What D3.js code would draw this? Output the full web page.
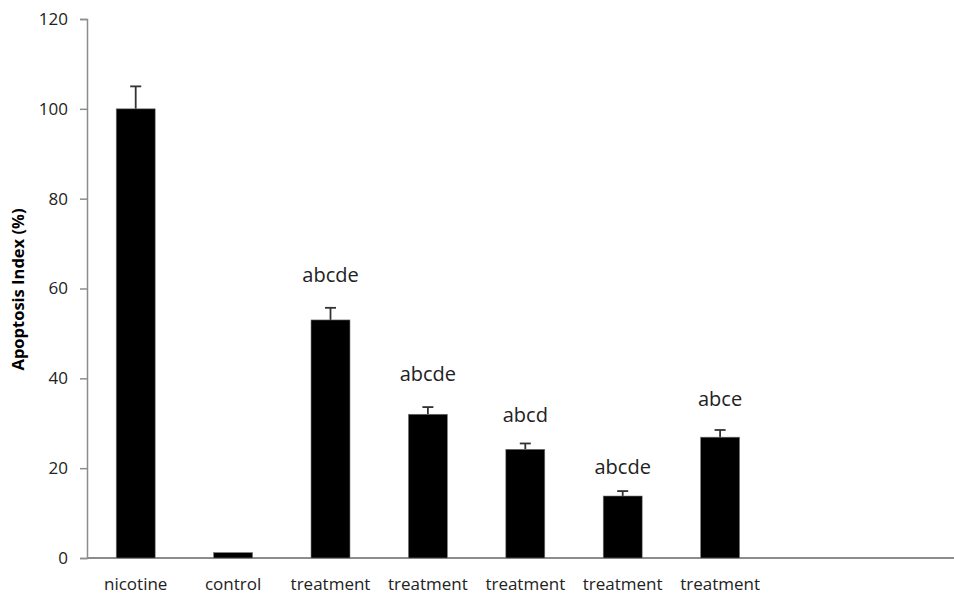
<!DOCTYPE html>
<html>
<head>
<meta charset="utf-8">
<script src="https://cdn.jsdelivr.net/npm/d3@7"></script>
<style>
  body { margin: 0; background: #fff; }
  text { font-family: "Open Sans", "Noto Sans", sans-serif; }
</style>
</head>
<body>
<div id="chart"></div>
<script>
// chart data
var groups = ['nicotine', 'control', 'treatment', 'treatment', 'treatment', 'treatment', 'treatment', '', ''];
var values = [100, 1.2, 53, 32, 24.2, 13.8, 26.9];
var errors = [5, 0, 2.7, 1.6, 1.3, 1.1, 1.6];
var letters = ['', '', 'abcde', 'abcde', 'abcd', 'abcde', 'abce'];
var letterAt = [0, 0, 61.5, 39.4, 30.2, 18.8, 33.9];   // label height in axis units
var yTicks = [0, 20, 40, 60, 80, 100, 120];

var width = 954, height = 600;
var margin = {top: 19, left: 87, bottom: 42};

var rows = values.map(function(v, i) {
  return {i: i, value: v, err: errors[i], letter: letters[i], at: letterAt[i]};
});

var svg = d3.select("#chart")
  .append("svg")
    .attr("width", width)
    .attr("height", height);

// one band per slot, last two slots empty (axis runs off the right edge)
var x = d3.scaleBand()
  .domain(d3.range(groups.length))
  .range([margin.left, margin.left + 97.4 * groups.length])
  .paddingInner(0.6)
  .paddingOuter(0.3);

var y = d3.scaleLinear()
  .domain([0, 120])
  .range([height - margin.bottom, margin.top]);

function cx(i) { return x(i) + x.bandwidth() / 2; }

// y axis
var yAxis = svg.append("g")
  .attr("transform", "translate(" + margin.left + ",0)")
  .call(d3.axisLeft(y).tickValues(yTicks).tickSize(7).tickPadding(12));
yAxis.select(".domain").attr("stroke", "#8c8c8c").attr("stroke-width", 1.5);
yAxis.selectAll(".tick line").attr("stroke", "#8c8c8c").attr("stroke-width", 1.5);
yAxis.selectAll(".tick text")
  .attr("font-size", 17)
  .attr("fill", "#222")
  .style("font-family", "'Open Sans', sans-serif");

// x axis, no ticks
svg.append("line")
  .attr("x1", margin.left)
  .attr("x2", width)
  .attr("y1", y(0))
  .attr("y2", y(0))
  .attr("stroke", "#8c8c8c")
  .attr("stroke-width", 1.8);

svg.selectAll(".cat-label")
  .data(groups)
  .enter().append("text")
    .attr("class", "cat-label")
    .attr("x", function(d, i) { return cx(i); })
    .attr("y", y(0) + 32)
    .attr("text-anchor", "middle")
    .attr("font-size", 17)
    .attr("fill", "#222")
    .text(function(d) { return d; });

// y axis title
svg.append("text")
  .attr("transform", "translate(24," + ((y(0) + y(120)) / 2 + 1) + ") rotate(-90)")
  .attr("text-anchor", "middle")
  .attr("font-size", 16.5)
  .attr("font-weight", "bold")
  .attr("fill", "#000")
  .text("Apoptosis Index (%)");

// error bars (drawn first so the bar covers the lower half)
var errG = svg.selectAll(".err")
  .data(rows.filter(function(d) { return d.err > 0; }))
  .enter().append("g")
    .attr("class", "err");

errG.append("line")
  .attr("x1", function(d) { return cx(d.i); })
  .attr("x2", function(d) { return cx(d.i); })
  .attr("y1", function(d) { return y(d.value); })
  .attr("y2", function(d) { return y(d.value + d.err); })
  .attr("stroke", "#333")
  .attr("stroke-width", 1.8);

errG.append("line")
  .attr("x1", function(d) { return cx(d.i) - 5.5; })
  .attr("x2", function(d) { return cx(d.i) + 5.5; })
  .attr("y1", function(d) { return y(d.value + d.err); })
  .attr("y2", function(d) { return y(d.value + d.err); })
  .attr("stroke", "#333")
  .attr("stroke-width", 1.8);

// bars
svg.selectAll(".bar")
  .data(rows)
  .enter().append("rect")
    .attr("class", "bar")
    .attr("x", function(d) { return x(d.i); })
    .attr("width", x.bandwidth())
    .attr("y", function(d) { return y(d.value); })
    .attr("height", function(d) { return y(0) - y(d.value); })
    .attr("fill", "#000")
    .attr("stroke", "#777")
    .attr("stroke-width", 0.6);

// significance letters
svg.selectAll(".sig")
  .data(rows.filter(function(d) { return d.letter; }))
  .enter().append("text")
    .attr("class", "sig")
    .attr("x", function(d) { return cx(d.i); })
    .attr("y", function(d) { return y(d.at); })
    .attr("text-anchor", "middle")
    .attr("font-size", 20)
    .attr("fill", "#222")
    .text(function(d) { return d.letter; });
</script>
</body>
</html>
